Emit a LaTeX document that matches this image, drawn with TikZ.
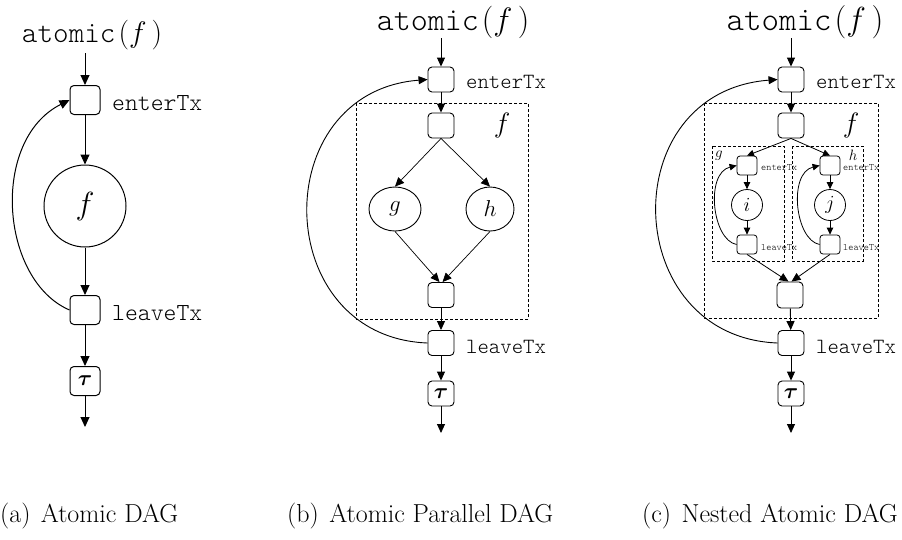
\documentclass[tikz,border=0pt]{standalone}
\usepackage{fix-cm}
\usepackage{amsmath}
\usepackage{fontspec}
\setmonofont{Latin Modern Mono Light}
\usetikzlibrary{arrows.meta,shapes.geometric}
\begin{document}
\begin{tikzpicture}[x=1pt,y=-1pt,
  boxA/.style={draw, rounded corners=4pt, minimum width=30pt, minimum height=29pt, inner sep=0pt, line width=1pt},
  boxB/.style={draw, rounded corners=4pt, minimum width=26pt, minimum height=25pt, inner sep=0pt, line width=0.9pt},
  boxS/.style={draw, rounded corners=3pt, minimum width=20pt, minimum height=19pt, inner sep=0pt, line width=0.8pt},
  arrA/.style={-{Triangle[length=10pt,width=9pt]}, line width=1pt},
  arrB/.style={-{Triangle[length=9pt,width=8pt]}, line width=0.9pt},
  arrS/.style={-{Triangle[length=7pt,width=6.5pt]}, line width=0.8pt},
  dbox/.style={draw, dash pattern=on 3pt off 2pt, line width=0.7pt},
  lblA/.style={anchor=west, inner sep=0pt, font=\ttfamily\fontsize{24.5}{27}\selectfont},
  lblB/.style={anchor=west, inner sep=0pt, font=\ttfamily\fontsize{21.7}{24}\selectfont},
  lblS/.style={anchor=west, inner sep=0pt, font=\ttfamily\fontsize{9.8}{11}\selectfont},
  captxt/.style={anchor=base west, inner sep=0pt, font=\fontsize{26}{29}\selectfont},
  tautxt/.style={font=\fontsize{22}{24}\selectfont}
]
\useasboundingbox (0,0) rectangle (902,539);

% ================= (a) =================
\node[inner sep=0pt, font=\ttfamily\fontsize{29.7}{33}\selectfont] (ta) at (92,35)
  {atomic\hspace{3pt}$(f\,)$};
\coordinate (ta-in) at (85,53);
\node[boxA] (ea) at (85,100) {};
\node[lblA] (eal) at (112,103) {enterTx};
\node[draw, circle, minimum size=82pt, inner sep=0pt, line width=1pt,
      font=\fontsize{32}{36}\selectfont] (fa) at (85,206) {$f$};
\node[boxA] (la) at (85,310) {};
\node[lblA] (lal) at (112,313) {leaveTx};
\node[boxA, tautxt] (tua) at (85,381) {$\boldsymbol{\tau}$};
\coordinate (outa) at (85,427);
\draw[arrA] (ta-in) -- (ea);
\draw[arrA] (ea) -- (fa);
\draw[arrA] (fa) -- (la);
\draw[arrA] (la) -- (tua);
\draw[arrA] (tua) -- (outa);
\draw[arrA] (la.west) .. controls (0,280) and (-10,140) .. (ea.west);

% ================= (b) =================
\node[inner sep=0pt, font=\ttfamily\fontsize{32.4}{36}\selectfont] (tb) at (453,22)
  {atomic\hspace{3pt}$(f\,)$};
\coordinate (tb-in) at (441,38);
\node[boxB] (eb) at (441,79.5) {};
\node[lblB] (ebl) at (466,82) {enterTx};
\draw[dbox] (356,103) rectangle (528,319);
\node[boxB] (b2) at (441,125.5) {};
\node[inner sep=0pt, font=\fontsize{28}{32}\selectfont] (fb) at (502,125) {$f$};
\node[draw, ellipse, minimum width=52pt, minimum height=44pt, inner sep=0pt, line width=0.9pt,
      font=\fontsize{23}{26}\selectfont] (gb) at (395,209) {$g$};
\node[draw, ellipse, minimum width=48pt, minimum height=44pt, inner sep=0pt, line width=0.9pt,
      font=\fontsize{23}{26}\selectfont] (hb) at (490,209) {$h$};
\node[boxB] (b3) at (441,295) {};
\node[boxB] (lb) at (441,343) {};
\node[lblB] (lbl) at (466,347) {leaveTx};
\node[boxB, tautxt] (tub) at (441,393.5) {$\boldsymbol{\tau}$};
\coordinate (outb) at (441,433);
\draw[arrB] (tb-in) -- (eb);
\draw[arrB] (eb) -- (b2);
\draw[arrB, line width=0.7pt] (b2.south) -- (gb.north);
\draw[arrB, line width=0.7pt] (b2.south) -- (hb.north);
\draw[arrB, line width=0.7pt] (gb.south) -- ([xshift=-1.5pt]b3.north);
\draw[arrB, line width=0.7pt] (hb.south) -- ([xshift=1.5pt]b3.north);
\draw[arrB] (b3) -- (lb);
\draw[arrB] (lb) -- (tub);
\draw[arrB] (tub) -- (outb);
\draw[arrB] (lb.west) .. controls (270,337) and (266,92) .. (eb.west);

% ================= (c) =================
\node[inner sep=0pt, font=\ttfamily\fontsize{33.3}{37}\selectfont] (tc) at (805,22)
  {atomic\hspace{3pt}$(f\,)$};
\coordinate (tc-in) at (791,38);
\node[boxB] (ec) at (791,79.5) {};
\node[lblB] (ecl) at (816,82) {enterTx};
\draw[dbox] (704,103) rectangle (878,318);
\node[boxB] (c2) at (791,125.5) {};
\node[inner sep=0pt, font=\fontsize{28}{32}\selectfont] (fc) at (851,125) {$f$};
\draw[dbox] (712,146) rectangle (784,261);
\draw[dbox] (792,146) rectangle (863,261);
\node[inner sep=0pt, font=\fontsize{15}{17}\selectfont] (gc) at (719,156) {$g$};
\node[inner sep=0pt, font=\fontsize{15}{17}\selectfont] (hc) at (853,155) {$h$};
% g branch
\node[boxS] (gen) at (747,165.5) {};
\node[lblS] (genl) at (761,168) {enterTx};
\node[draw, circle, minimum size=31pt, inner sep=0pt, line width=0.8pt,
      font=\fontsize{20}{22}\selectfont] (ic) at (747,205) {$i$};
\node[boxS] (glv) at (747,244.5) {};
\node[lblS] (glvl) at (761,248) {leaveTx};
% h branch
\node[boxS] (hen) at (830,165.5) {};
\node[lblS] (henl) at (843,168) {enterTx};
\node[draw, circle, minimum size=31pt, inner sep=0pt, line width=0.8pt,
      font=\fontsize{20}{22}\selectfont] (jc) at (830,205) {$j$};
\node[boxS] (hlv) at (830,244.5) {};
\node[lblS] (hlvl) at (843,248) {leaveTx};
\node[boxB, minimum height=26pt] (c3) at (790,295) {};
\node[boxB] (lc) at (791,343) {};
\node[lblB] (lcl) at (816,347) {leaveTx};
\node[boxB, tautxt] (tuc) at (791,393.5) {$\boldsymbol{\tau}$};
\coordinate (outc) at (791,433);
\draw[arrB] (tc-in) -- (ec);
\draw[arrB] (ec) -- (c2);
\draw[arrS] (c2.south) -- (gen.north);
\draw[arrS] (c2.south) -- (hen.north);
\draw[arrS] (gen) -- (ic);
\draw[arrS] (ic) -- (glv);
\draw[arrS] (hen) -- (jc);
\draw[arrS] (jc) -- (hlv);
\draw[arrS] (glv.west) .. controls (712,240) and (705,173) .. (gen.west);
\draw[arrS] (hlv.west) .. controls (795,240) and (788,173) .. (hen.west);
\draw[arrB, line width=0.8pt] (glv.south) -- ([xshift=-1.5pt]c3.north);
\draw[arrB, line width=0.8pt] (hlv.south) -- ([xshift=1.5pt]c3.north);
\draw[arrB] (c3) -- (lc);
\draw[arrB] (lc) -- (tuc);
\draw[arrB] (tuc) -- (outc);
\draw[arrB] (lc.west) .. controls (620,337) and (613,92) .. (ec.west);

% ================= captions =================
\node[captxt] (capa) at (0,522) {(a)\hspace{0.4em}Atomic DAG};
\node[captxt] (capb) at (287,522) {(b)\hspace{0.4em}Atomic Parallel DAG};
\node[captxt] (capc) at (642,522) {(c)\hspace{0.4em}Nested Atomic DAG};
\end{tikzpicture}
\end{document}
